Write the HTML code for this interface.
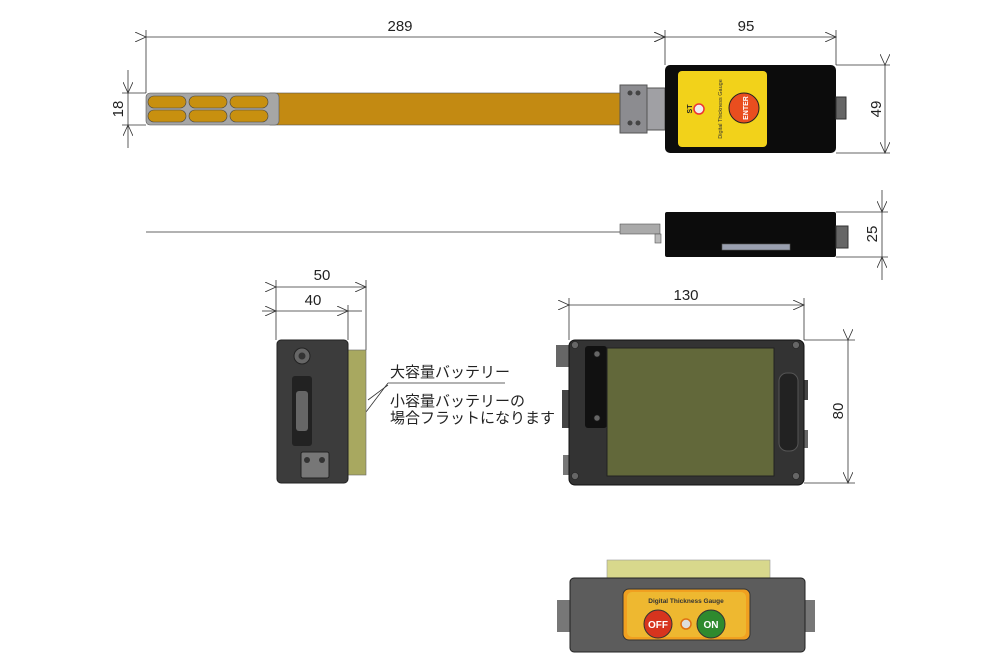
<!DOCTYPE html>
<html><head><meta charset="utf-8"><style>body{margin:0;background:#fff}svg{display:block}</style></head><body>
<svg width="1000" height="666" viewBox="0 0 1000 666" xmlns="http://www.w3.org/2000/svg" font-family="Liberation Sans, sans-serif">
<defs><marker id="a" markerWidth="12" markerHeight="10" refX="11" refY="5" orient="auto" markerUnits="userSpaceOnUse"><path d="M0,0 L11,5 L0,10" fill="none" stroke="#333" stroke-width="0.8"/></marker></defs>
<g stroke="#333" stroke-width="0.8" fill="none">
<!-- top dims -->
<line x1="146" y1="30" x2="146" y2="93"/><line x1="665" y1="30" x2="665" y2="65"/><line x1="836" y1="30" x2="836" y2="65"/>
<line x1="146" y1="37" x2="665" y2="37" marker-start="url(#a)" marker-end="url(#a)"/>
<line x1="665" y1="37" x2="836" y2="37" marker-start="url(#a)" marker-end="url(#a)"/>
<line x1="122" y1="93" x2="146" y2="93"/><line x1="122" y1="125" x2="146" y2="125"/>
<line x1="128" y1="70" x2="128" y2="93" marker-end="url(#a)"/><line x1="128" y1="148" x2="128" y2="125" marker-end="url(#a)"/><line x1="128" y1="93" x2="128" y2="125"/>
<line x1="836" y1="65" x2="890" y2="65"/><line x1="836" y1="153" x2="890" y2="153"/>
<line x1="885" y1="65" x2="885" y2="153" marker-start="url(#a)" marker-end="url(#a)"/>
<line x1="836" y1="212" x2="888" y2="212"/><line x1="836" y1="257" x2="888" y2="257"/>
<line x1="882" y1="190" x2="882" y2="212" marker-end="url(#a)"/><line x1="882" y1="280" x2="882" y2="257" marker-end="url(#a)"/><line x1="882" y1="212" x2="882" y2="257"/>
<!-- 50/40 -->
<line x1="276" y1="280" x2="276" y2="340"/><line x1="366" y1="280" x2="366" y2="350"/><line x1="348" y1="305" x2="348" y2="340"/>
<line x1="276" y1="287" x2="366" y2="287" marker-start="url(#a)" marker-end="url(#a)"/>
<line x1="262" y1="311" x2="276" y2="311"/><line x1="276" y1="311" x2="348" y2="311" marker-start="url(#a)" marker-end="url(#a)"/><line x1="348" y1="311" x2="362" y2="311"/>
<!-- 130/80 -->
<line x1="569" y1="298" x2="569" y2="340"/><line x1="804" y1="298" x2="804" y2="340"/>
<line x1="569" y1="305" x2="804" y2="305" marker-start="url(#a)" marker-end="url(#a)"/>
<line x1="804" y1="340" x2="855" y2="340"/><line x1="804" y1="483" x2="855" y2="483"/>
<line x1="848" y1="340" x2="848" y2="483" marker-start="url(#a)" marker-end="url(#a)"/>
<!-- leader -->
<line x1="388" y1="383" x2="505" y2="383"/><line x1="388" y1="383" x2="366" y2="412"/><line x1="388" y1="385" x2="368" y2="400"/>
<line x1="146" y1="232" x2="620" y2="232"/>
</g>
<g font-size="15" fill="#222" text-anchor="middle">
<text x="400" y="31">289</text><text x="746" y="31">95</text>
<text transform="translate(123,109) rotate(-90)">18</text>
<text transform="translate(881,109) rotate(-90)">49</text>
<text transform="translate(877,234) rotate(-90)">25</text>
<text x="322" y="280">50</text><text x="313" y="305">40</text>
<text x="686" y="300">130</text>
<text transform="translate(843,411) rotate(-90)">80</text>
</g>
<g font-family="Liberation Sans, Noto Sans CJK JP, sans-serif" font-size="15" fill="#222">
<text x="390" y="377">大容量バッテリー</text><text x="390" y="406">小容量バッテリーの</text><text x="390" y="423">場合フラットになります</text>
</g>
<!-- top view -->
<rect x="270" y="93" width="395" height="32" fill="#c38a12" stroke="#555" stroke-width="0.6"/>
<rect x="146" y="93" width="133" height="32" rx="4" fill="#a6a6a6" stroke="#555" stroke-width="0.6"/>
<g fill="#c8900f" stroke="#444" stroke-width="0.6">
<rect x="148" y="96" width="38" height="12" rx="6"/><rect x="189" y="96" width="38" height="12" rx="6"/><rect x="230" y="96" width="38" height="12" rx="6"/>
<rect x="148" y="110" width="38" height="12" rx="6"/><rect x="189" y="110" width="38" height="12" rx="6"/><rect x="230" y="110" width="38" height="12" rx="6"/>
</g>
<rect x="620" y="85" width="27" height="48" fill="#8c8c90" stroke="#555"/><rect x="647" y="88" width="18" height="42" fill="#a0a0a4" stroke="#555"/>
<g fill="#444"><circle cx="630" cy="93" r="2.5"/><circle cx="638" cy="93" r="2.5"/><circle cx="630" cy="123" r="2.5"/><circle cx="638" cy="123" r="2.5"/></g>
<rect x="665" y="65" width="171" height="88" rx="5" fill="#0c0c0c"/>
<rect x="678" y="71" width="89" height="76" rx="4" fill="#f2d21a"/>
<circle cx="744" cy="108" r="15" fill="#e94e1f" stroke="#222"/>
<text transform="translate(748,108) rotate(-90)" font-size="7" font-weight="bold" fill="#fff" text-anchor="middle">ENTER</text>
<circle cx="699" cy="109" r="5" fill="#eee" stroke="#e33" stroke-width="1.5"/>
<text transform="translate(692,109) rotate(-90)" font-size="7" font-weight="bold" fill="#222" text-anchor="middle">ST</text>
<text transform="translate(722,109) rotate(-90)" font-size="5.5" fill="#333" text-anchor="middle">Digital Thickness Gauge</text>
<rect x="836" y="97" width="10" height="22" fill="#666" stroke="#333"/>
<!-- side view -->
<rect x="620" y="224" width="40" height="10" fill="#aaa" stroke="#555" stroke-width="0.6"/><rect x="655" y="234" width="6" height="9" fill="#bbb" stroke="#555" stroke-width="0.6"/>
<rect x="665" y="212" width="171" height="45" rx="2" fill="#0c0c0c"/>
<rect x="722" y="244" width="68" height="6" fill="#9aa0b0" stroke="#555" stroke-width="0.6"/>
<rect x="836" y="226" width="12" height="22" fill="#666" stroke="#333"/>
<!-- end view -->
<rect x="348" y="350" width="18" height="125" fill="#a8a860" stroke="#666" stroke-width="0.6"/>
<rect x="277" y="340" width="71" height="143" rx="4" fill="#3c3c3c" stroke="#222"/>
<circle cx="302" cy="356" r="8" fill="#666" stroke="#222"/><circle cx="302" cy="356" r="3.5" fill="#333"/>
<rect x="292" y="376" width="20" height="70" rx="3" fill="#222"/><rect x="296" y="391" width="12" height="40" rx="3" fill="#666"/>
<rect x="301" y="452" width="28" height="26" rx="2" fill="#777" stroke="#222"/><circle cx="307" cy="460" r="3" fill="#333"/><circle cx="322" cy="460" r="3" fill="#333"/>
<!-- front view -->
<rect x="556" y="345" width="14" height="22" fill="#666"/><rect x="562" y="390" width="10" height="38" fill="#444"/>
<rect x="563" y="455" width="8" height="20" fill="#777"/><rect x="798" y="380" width="10" height="20" fill="#444"/><rect x="800" y="430" width="8" height="18" fill="#666"/>
<rect x="569" y="340" width="235" height="145" rx="6" fill="#333" stroke="#111"/>
<rect x="585" y="346" width="22" height="82" rx="3" fill="#111"/>
<rect x="607" y="348" width="167" height="128" fill="#62683a" stroke="#222"/>
<rect x="779" y="373" width="19" height="78" rx="8" fill="#222" stroke="#555"/>
<g fill="#666" stroke="#222" stroke-width="0.6"><circle cx="575" cy="345" r="3.5"/><circle cx="796" cy="345" r="3.5"/><circle cx="575" cy="476" r="3.5"/><circle cx="796" cy="476" r="3.5"/><circle cx="597" cy="354" r="3"/><circle cx="597" cy="418" r="3"/></g>
<!-- bottom view -->
<rect x="607" y="560" width="163" height="19" fill="#d8d88c" stroke="#999" stroke-width="0.6"/>
<rect x="557" y="600" width="15" height="32" fill="#777"/><rect x="803" y="600" width="12" height="32" fill="#777"/>
<rect x="570" y="578" width="235" height="74" rx="4" fill="#5c5c5c" stroke="#222"/>
<rect x="623" y="589" width="127" height="51" rx="6" fill="#f0a020" stroke="#333"/>
<rect x="627" y="592" width="119" height="45" rx="5" fill="#eeb830"/>
<text x="686" y="603" font-size="6.5" font-weight="bold" fill="#333" text-anchor="middle">Digital Thickness Gauge</text>
<circle cx="658" cy="624" r="14" fill="#d7341e" stroke="#333"/><text x="658" y="628" font-size="10" font-weight="bold" fill="#fff" text-anchor="middle">OFF</text>
<circle cx="711" cy="624" r="14" fill="#2e8a2e" stroke="#333"/><text x="711" y="628" font-size="10" font-weight="bold" fill="#fff" text-anchor="middle">ON</text>
<circle cx="686" cy="624" r="5" fill="#ddd" stroke="#e07010" stroke-width="1.5"/>
</svg>
</body></html>
